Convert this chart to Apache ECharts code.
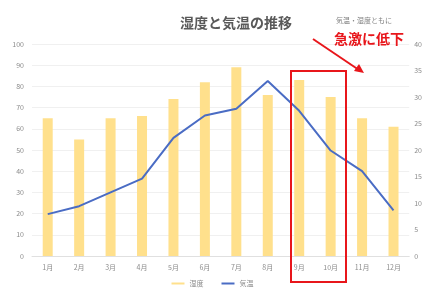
<!DOCTYPE html>
<html>
<head>
<meta charset="utf-8">
<script src="https://cdn.jsdelivr.net/npm/echarts@6/dist/echarts.min.js"></script>
<style>
html, body { margin: 0; padding: 0; background: #fff; }
#chart { width: 425px; height: 294px; }
</style>
</head>
<body>
<div id="chart"></div>
<script>
// データ
var months = ["1月", "2月", "3月", "4月", "5月", "6月", "7月", "8月", "9月", "10月", "11月", "12月"];
var humidity = [65, 55, 65, 66, 74, 82, 89, 76, 83, 75, 65, 61];
var temperature = [7.9, 9.4, 12.0, 14.6, 22.3, 26.5, 27.8, 33.0, 27.4, 19.9, 16.0, 8.6];

var font = "'Noto Sans CJK JP', 'Noto Sans', sans-serif";
var labelColor = "#8c8c8c";

var myChart = echarts.init(document.getElementById("chart"));
myChart.setOption({
    animation: false,
    textStyle: { fontFamily: font },
    title: {
        text: "湿度と気温の推移",
        left: 175,
        top: 11,
        textStyle: { fontSize: 14, fontWeight: "bold", color: "#595959", fontFamily: font }
    },
    legend: {
        bottom: 2,
        left: "center",
        itemWidth: 13,
        itemHeight: 2,
        itemGap: 18,
        icon: "rect",
        textStyle: { fontSize: 7, color: labelColor },
        data: ["湿度", "気温"]
    },
    grid: { left: 32, right: 12, top: 44, bottom: 38 },
    xAxis: {
        type: "category",
        data: months,
        axisTick: { show: false },
        axisLine: { lineStyle: { color: "#e0e0e0" } },
        axisLabel: { fontSize: 7, color: labelColor, margin: 8 }
    },
    yAxis: [
        {
            type: "value",
            min: 0,
            max: 100,
            interval: 10,
            axisLine: { show: false },
            axisTick: { show: false },
            axisLabel: { fontSize: 7, color: labelColor, margin: 8 },
            splitLine: { lineStyle: { color: "#f0f0f0" } }
        },
        {
            type: "value",
            min: 0,
            max: 40,
            interval: 5,
            axisLine: { show: false },
            axisTick: { show: false },
            axisLabel: { fontSize: 7, color: labelColor, margin: 5 },
            splitLine: { show: false }
        }
    ],
    series: [
        {
            name: "湿度",
            type: "bar",
            barWidth: 10,
            data: humidity,
            itemStyle: { color: "#FFE08C" }
        },
        {
            name: "気温",
            type: "line",
            yAxisIndex: 1,
            data: temperature,
            symbol: "none",
            lineStyle: { color: "#4A6CC4", width: 2 },
            itemStyle: { color: "#4A6CC4" }
        }
    ],
    graphic: [
        // 9月・10月の枠
        {
            type: "rect",
            shape: { x: 291, y: 71, width: 55, height: 211 },
            style: { fill: "none", stroke: "#e8161b", lineWidth: 2 },
            z: 100
        },
        // 矢印
        {
            type: "line",
            shape: { x1: 313, y1: 39, x2: 359, y2: 70 },
            style: { stroke: "#e8161b", lineWidth: 2 },
            z: 100
        },
        {
            type: "polygon",
            shape: { points: [[364, 73], [354, 71], [359, 64]] },
            style: { fill: "#e8161b" },
            z: 100
        },
        {
            type: "text",
            left: 336,
            top: 17,
            style: { text: "気温・湿度ともに", fontSize: 7, fill: "#7f7f7f", fontFamily: font },
            z: 100
        },
        {
            type: "text",
            left: 334,
            top: 32,
            style: { text: "急激に低下", fontSize: 14, fontWeight: "bold", fill: "#e8161b", fontFamily: font },
            z: 100
        }
    ]
});
</script>
</body>
</html>
